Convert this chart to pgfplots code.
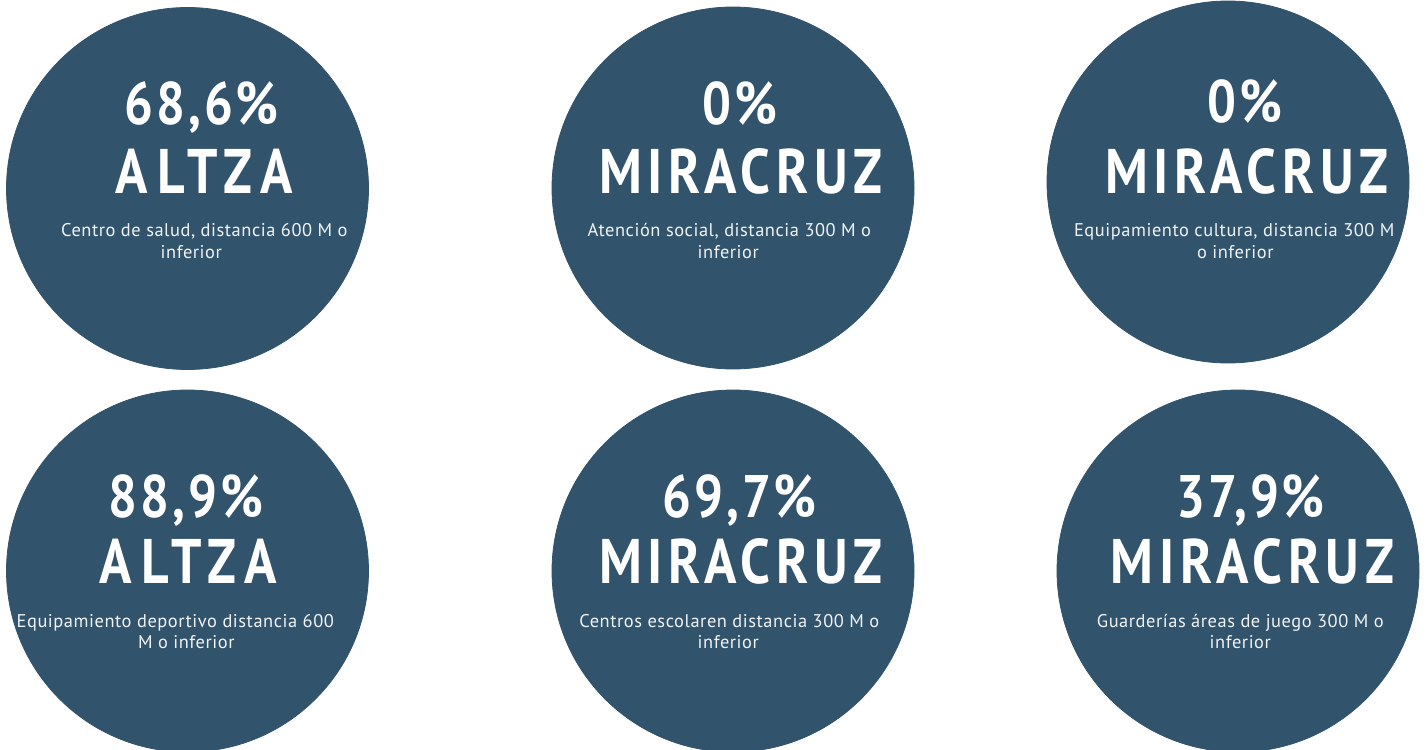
\documentclass[border=0pt]{standalone}
\usepackage{pgfplots}
\pgfplotsset{compat=1.18}
\usepackage{pgfplotstable}
\usepackage{fontspec}
\setmainfont[LetterSpace=3]{PT Sans}
\newfontfamily\numfont[FakeStretch=0.85,LetterSpace=5]{PT Sans}
\newfontfamily\namefont[FakeStretch=0.85,LetterSpace=9]{PT Sans}
\newfontfamily\widefont[FakeStretch=0.85,LetterSpace=14.5]{PT Sans}
\definecolor{circ}{HTML}{31536C}
\pgfplotstableread{
cx cy
187.5 188.5
733 188
1228 182
187.5 571
733 571
1238 571
}\circles
\newcommand{\numtxt}[3]{\node[anchor=base,text=white,inner sep=0pt] at (axis cs:#1+1.6,#2) {\numfont\bfseries\fontsize{30}{30}\selectfont #3};}
\newcommand{\nametxt}[3]{\node[anchor=base,text=white,inner sep=0pt] at (axis cs:#1+2.9,#2) {\namefont\bfseries\fontsize{31.5}{32}\selectfont #3};}
\newcommand{\widetxt}[3]{\node[anchor=base,text=white,inner sep=0pt] at (axis cs:#1+4.5,#2) {\widefont\bfseries\fontsize{31.5}{32}\selectfont #3};}
\newcommand{\smtxt}[3]{\node[anchor=base,text=white!93!circ,inner sep=0pt] at (axis cs:#1+0.3,#2) {\fontsize{9.2}{11}\selectfont #3};}
\pgfplotsset{frame/.style={
  width=713.5pt, height=374.5pt, scale only axis,
  xmin=0, xmax=1427, ymin=0, ymax=749, y dir=reverse,
  hide axis, clip=true}}
\begin{document}
\begin{tikzpicture}
\begin{axis}[name=ax, frame]
\addplot[only marks, mark=*, mark size=90.5pt, color=circ, mark options={fill=circ, draw=circ}] table[x=cx,y=cy] {\circles};
\end{axis}
\begin{axis}[frame, at={(ax.south west)}, anchor=south west]
\addplot[draw=none, mark=none] coordinates {(0,0)};
% circle 1
\numtxt{200}{125}{68,6\%}
\widetxt{200}{194}{ALTZA}
\smtxt{204}{236}{Centro de salud, distancia 600 M o}
\smtxt{191}{258}{inferior}
% circle 2
\numtxt{738}{125}{0\%}
\nametxt{738}{193}{MIRACRUZ}
\smtxt{729}{236}{Atención social, distancia 300 M o}
\smtxt{728}{258}{inferior}
% circle 3
\numtxt{1243}{123}{0\%}
\nametxt{1244}{193}{MIRACRUZ}
\smtxt{1234}{236}{Equipamiento cultura, distancia 300 M}
\smtxt{1235}{258}{o inferior}
% circle 4
\numtxt{184.5}{517}{88,9\%}
\widetxt{184}{583}{ALTZA}
\smtxt{175}{627}{Equipamiento deportivo distancia 600}
\smtxt{186}{648}{M o inferior}
% circle 5
\numtxt{738}{517}{69,7\%}
\nametxt{738}{583}{MIRACRUZ}
\smtxt{729}{627}{Centros escolaren distancia 300 M o}
\smtxt{728}{648}{inferior}
% circle 6
\numtxt{1249}{517}{37,9\%}
\nametxt{1249.5}{583}{MIRACRUZ}
\smtxt{1240}{627}{Guarderías áreas de juego 300 M o}
\smtxt{1240}{648}{inferior}
\end{axis}
\pgfresetboundingbox
\path[use as bounding box] (ax.south west) rectangle (ax.north east);
\end{tikzpicture}
\end{document}
